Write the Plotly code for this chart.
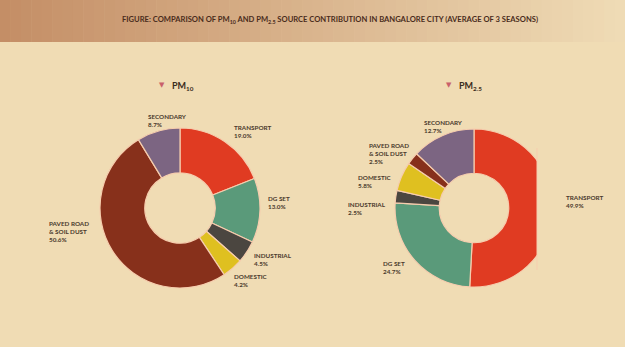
import plotly.graph_objects as go

W, H = 628, 351

# ---- data ----
sources = ["TRANSPORT", "DG SET", "INDUSTRIAL", "DOMESTIC", "PAVED ROAD<br>& SOIL DUST", "SECONDARY"]
pm10_values = [19.0, 13.0, 4.5, 4.2, 50.6, 8.7]
pm25_values = [49.9, 24.7, 2.5, 5.8, 2.5, 12.7]
colors = ["#E03B22", "#5A9A7A", "#4B4640", "#DFC020", "#87301B", "#7C6582"]

title_text = ("FIGURE: COMPARISON OF PM<sub>10</sub> AND PM<sub>2.5</sub> SOURCE CONTRIBUTION "
              "IN BANGALORE CITY (AVERAGE OF 3 SEASONS)")
chart_titles = ["PM<sub>10</sub>", "PM<sub>2.5</sub>"]

# label anchor positions (pixels, top-left of text)
pm10_label_pos = [(233, 123), (267, 194), (253, 251), (233, 272), (48, 219), (147, 112)]
pm25_label_pos = [(565, 193), (382, 259), (347, 200), (357, 173), (368, 141), (423, 118)]


def px(x):
    return x / W


def py(y):
    return 1 - y / H


BG = "#F0DCB4"
TEXT = "#4A3A2C"

fig = go.Figure()

pie_specs = [
    (pm10_values, 180, 208, 80),
    (pm25_values, 474, 208, 79),
]
for vals, cx, cy, r in pie_specs:
    fig.add_trace(go.Pie(
        labels=[s.replace("<br>", " ") for s in sources],
        values=vals,
        sort=False,
        direction="clockwise",
        rotation=0,
        hole=0.44,
        textinfo="none",
        hoverinfo="label+value",
        marker=dict(colors=colors, line=dict(color="#F6CDAE", width=1.2)),
        domain=dict(x=[px(cx - r), px(cx + r)], y=[py(cy + r), py(cy - r)]),
        showlegend=False,
    ))

shapes = []
# beige page with thin white edge right/bottom
shapes.append(dict(type="rect", xref="paper", yref="paper", x0=0, x1=px(625), y0=py(347), y1=1,
                   fillcolor=BG, line=dict(width=0), layer="below"))
# gradient header band
n = 60
c0 = (0xC4, 0x8E, 0x66)
c1 = (0xEF, 0xDB, 0xB5)
for i in range(n):
    t = i / (n - 1)
    col = tuple(int(round(c0[k] + (c1[k] - c0[k]) * t)) for k in range(3))
    x0 = 625 * i / n
    x1 = 625 * (i + 1) / n + 0.5
    shapes.append(dict(type="rect", xref="paper", yref="paper", x0=px(x0), x1=px(min(x1, 625)),
                       y0=py(42), y1=1, fillcolor="rgb(%d,%d,%d)" % col, line=dict(width=0),
                       layer="below"))
# the right side of the PM2.5 donut is cut off in the original
shapes.append(dict(type="rect", xref="paper", yref="paper", x0=px(537), x1=px(560),
                   y0=py(300), y1=py(115), fillcolor=BG, line=dict(width=0), layer="above"))
shapes.append(dict(type="line", xref="paper", yref="paper", x0=px(537), x1=px(537),
                   y0=py(270), y1=py(148), line=dict(color="#F6CDAE", width=1), layer="above"))

annotations = []
annotations.append(dict(x=px(330), y=py(20), xref="paper", yref="paper", text=title_text,
                        showarrow=False, xanchor="center", yanchor="middle",
                        font=dict(family="Lato", size=7.6, color="#4A2C1C", weight="bold")))

for title, (tx, ty) in zip(chart_titles, [(162, 85), (449, 85)]):
    annotations.append(dict(x=px(tx), y=py(ty), xref="paper", yref="paper", text="▼",
                            showarrow=False, xanchor="center", yanchor="middle",
                            font=dict(family="DejaVu Sans", size=7, color="#C9606A")))
    annotations.append(dict(x=px(tx + 8), y=py(ty + 1), xref="paper", yref="paper", text=title,
                            showarrow=False, xanchor="left", yanchor="middle",
                            font=dict(family="Lato", size=9, color="#3A2C20", weight="bold")))

for vals, positions in [(pm10_values, pm10_label_pos), (pm25_values, pm25_label_pos)]:
    for name, v, (lx, ly) in zip(sources, vals, positions):
        annotations.append(dict(x=px(lx), y=py(ly), xref="paper", yref="paper",
                                text="%s<br>%.1f%%" % (name, v), showarrow=False,
                                xanchor="left", yanchor="top", align="left", borderpad=0,
                                font=dict(family="Lato", size=6.3, color=TEXT, weight="bold")))

fig.update_layout(
    width=W, height=H,
    margin=dict(l=0, r=0, t=0, b=0),
    paper_bgcolor="white",
    plot_bgcolor="white",
    shapes=shapes,
    annotations=annotations,
)

fig.write_html("out.html")
